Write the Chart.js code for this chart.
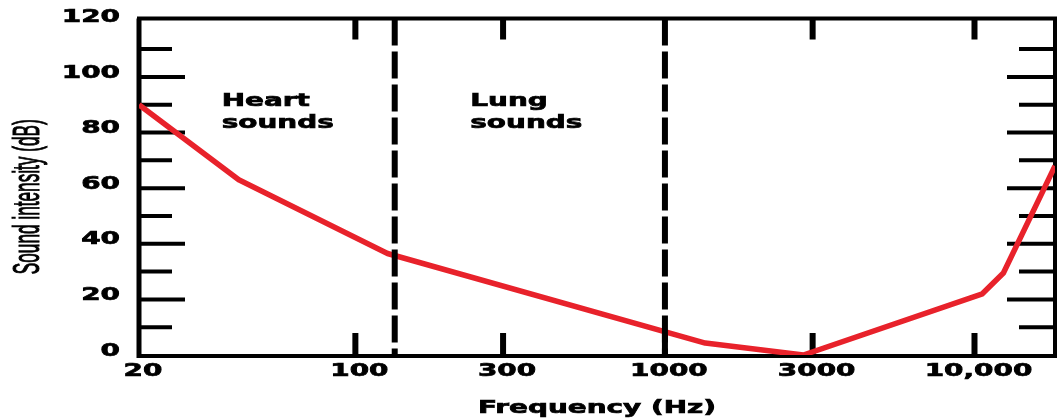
<!DOCTYPE html>
<html>
<head>
<meta charset="utf-8">
<script src="https://cdn.jsdelivr.net/npm/chart.js@4.4.1/dist/chart.umd.min.js"></script>
<style>
  html, body { margin: 0; padding: 0; background: #fff; }
  canvas { display: block; }
</style>
</head>
<body>
<canvas id="soundChart" width="1058" height="419"></canvas>
<script>
// values
const frequencies = [20, 42, 127, 1350, 2800, 10600, 12400, 18200];
const intensities = [90, 63, 36.5, 4.3, 0, 22, 29.5, 68];
const xTickValues = [20, 100, 300, 1000, 3000, 10000];
const xTickLabels = ['20', '100', '300', '1000', '3000', '10,000'];
const yTickValues = [0, 20, 40, 60, 80, 100, 120];
const yMinorValues = [10, 20, 30, 40, 50, 60, 70, 80, 90, 100, 110];
const boundaryFrequencies = [134, 1000];
const regionNames = [['Heart', 'sounds'], ['Lung', 'sounds']];
const regionFrequencies = [37, 235];

const STRETCH = 1.55;
const boldFont = 'bold 18px "DejaVu Sans", Verdana, sans-serif';

// the source image is stretched sideways, so text is too
function wideText(ctx, text, x, y, align) {
    ctx.save();
    ctx.translate(x, y);
    ctx.scale(STRETCH, 1);
    ctx.textAlign = align;
    ctx.lineWidth = 0.7;
    ctx.strokeText(text, 0, 0);
    ctx.fillText(text, 0, 0);
    ctx.restore();
}

const framePlugin = {
    id: 'frame',
    beforeDatasetsDraw(chart) {
        const { ctx, chartArea: a, scales: { x, y } } = chart;
        ctx.save();
        ctx.strokeStyle = '#000';
        ctx.lineCap = 'butt';

        // inward ticks on left and right sides
        ctx.lineWidth = 4;
        yMinorValues.forEach(v => {
            const py = y.getPixelForValue(v);
            const major = v % 20 === 0;
            ctx.beginPath();
            ctx.moveTo(a.left, py);
            ctx.lineTo(a.left + (major ? 46 : 33), py);
            ctx.moveTo(a.right, py);
            ctx.lineTo(a.right - (major ? 48 : 36), py);
            ctx.stroke();
        });

        // top and bottom ticks
        ctx.lineWidth = 6;
        xTickValues.slice(1).forEach(v => {
            const px = x.getPixelForValue(v);
            ctx.beginPath();
            if (v !== 1000) {
                ctx.moveTo(px, a.top);
                ctx.lineTo(px, a.top + 21);
            }
            ctx.moveTo(px, a.bottom);
            ctx.lineTo(px, a.bottom - 22);
            ctx.stroke();
        });

        // box
        ctx.lineWidth = 4;
        ctx.beginPath();
        ctx.moveTo(a.left - 2, a.top);
        ctx.lineTo(a.right + 2, a.top);
        ctx.moveTo(a.right, a.top);
        ctx.lineTo(a.right, a.bottom);
        ctx.moveTo(a.left - 2, a.bottom + 1);
        ctx.lineTo(a.right + 2, a.bottom + 1);
        ctx.stroke();
        ctx.lineWidth = 5;
        ctx.beginPath();
        ctx.moveTo(a.left, a.top);
        ctx.lineTo(a.left, a.bottom + 3);
        ctx.stroke();
        ctx.restore();
    },
    afterDraw(chart) {
        const { ctx, chartArea: a, scales: { x, y } } = chart;
        ctx.save();
        ctx.fillStyle = '#000';
        ctx.strokeStyle = '#000';
        ctx.font = boldFont;
        ctx.textBaseline = 'middle';

        xTickValues.forEach((v, i) => {
            wideText(ctx, xTickLabels[i], x.getPixelForValue(v) + 4, a.bottom + 16, 'center');
        });
        yTickValues.forEach(v => {
            wideText(ctx, String(v), a.left - 19, y.getPixelForValue(v) - 4, 'right');
        });

        ctx.textBaseline = 'alphabetic';
        regionNames.forEach((lines, i) => {
            const px = x.getPixelForValue(regionFrequencies[i]);
            const py = y.getPixelForValue(89.5);
            lines.forEach((t, j) => wideText(ctx, t, px, py + j * 22, 'left'));
        });

        wideText(ctx, 'Frequency (Hz)', (a.left + a.right) / 2, 413, 'center');

        // rotated y title, squeezed along its length and thickened across
        const title = 'Sound intensity (dB)';
        ctx.font = '21px "Liberation Sans Narrow", "Liberation Sans", Arial, sans-serif';
        const w = ctx.measureText(title).width;
        ctx.translate(39, (a.top + a.bottom) / 2 + 10);
        ctx.rotate(-Math.PI / 2);
        ctx.scale(155 / w, 1.75);
        ctx.textAlign = 'center';
        ctx.lineWidth = 0.6;
        ctx.strokeText(title, 0, 0);
        ctx.fillText(title, 0, 0);
        ctx.restore();
    }
};

const curve = frequencies.map((f, i) => ({ x: f, y: intensities[i] }));
const boundaries = boundaryFrequencies.map(f => ({
    data: [{ x: f, y: 121 }, { x: f, y: 0 }],
    borderColor: '#000',
    borderWidth: 6,
    borderDash: [27, 6],
    pointRadius: 0,
    fill: false
}));

new Chart(document.getElementById('soundChart'), {
    type: 'line',
    data: {
        datasets: [
            ...boundaries,
            {
                label: 'Sound intensity',
                data: curve,
                borderColor: '#e8222b',
                borderWidth: 5.5,
                borderJoinStyle: 'round',
                pointRadius: 0,
                tension: 0,
                fill: false
            }
        ]
    },
    options: {
        responsive: false,
        animation: false,
        events: [],
        layout: { padding: { left: 139, right: 3, top: 18.5, bottom: 64 } },
        plugins: { legend: { display: false }, tooltip: { enabled: false } },
        scales: {
            x: { type: 'logarithmic', min: 20, max: 18200, display: false },
            y: { type: 'linear', min: 0, max: 121, display: false }
        }
    },
    plugins: [framePlugin]
});
</script>
</body>
</html>
